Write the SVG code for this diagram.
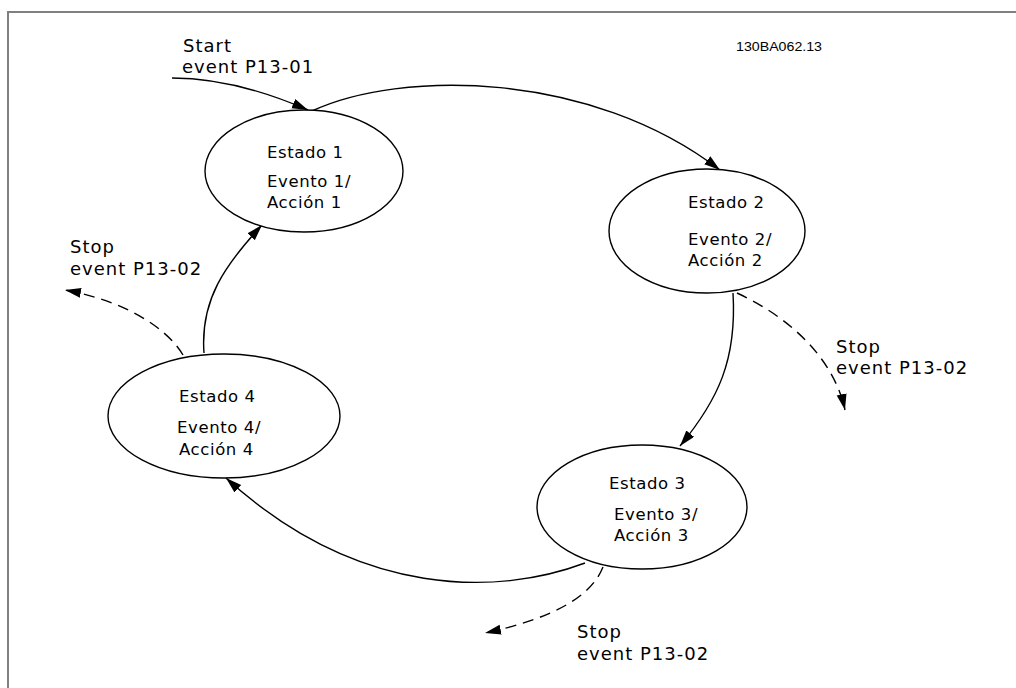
<svg xmlns="http://www.w3.org/2000/svg" width="1016" height="688" viewBox="0 0 1016 688">
<style>
.bg{fill:#ffffff}
.frame{fill:none;stroke:#808080;stroke-width:2}
.state{fill:#ffffff;stroke:#000000;stroke-width:1.4}
.t{font-family:"DejaVu Sans","Liberation Sans",sans-serif;font-size:16.5px;letter-spacing:0.6px;fill:#000000}
.lbl{font-family:"DejaVu Sans","Liberation Sans",sans-serif;font-size:18px;letter-spacing:1px;fill:#000000}
.code{font-family:"Liberation Sans",Arial,sans-serif;font-size:12.5px;fill:#000000}
.edge{fill:none;stroke:#000000;stroke-width:1.4}
.dash{fill:none;stroke:#000000;stroke-width:1.4;stroke-dasharray:11 7}
</style>
<defs>
<marker id="ah" markerUnits="userSpaceOnUse" markerWidth="18" markerHeight="12" refX="16" refY="5" orient="auto">
<path d="M0,0 L16,5 L0,10 Z" fill="#000000"/>
</marker>
</defs>
<rect class="bg" x="0" y="0" width="1016" height="688"/>
<path class="frame" d="M1016,12 L8,12 L8,688"/>
<text class="code" x="736" y="51" textLength="86" lengthAdjust="spacingAndGlyphs">130BA062.13</text>
<g id="connectors">
<path class="edge" d="M172,78 C215,78 262,90 308,110" marker-end="url(#ah)"/>
<path class="edge" d="M312,111 C400,70 590,70 720,170" marker-end="url(#ah)"/>
<path class="edge" d="M733,293 C737,360 718,400 680,446" marker-end="url(#ah)"/>
<path class="dash" d="M737,293 C785,315 833,355 845,410" marker-end="url(#ah)"/>
<path class="edge" d="M585,563 C500,595 360,600 226,478" marker-end="url(#ah)"/>
<path class="dash" d="M603,567 C590,600 545,620 485,633" marker-end="url(#ah)"/>
<path class="edge" d="M204,353 C200,300 225,265 262,225" marker-end="url(#ah)"/>
<path class="dash" d="M183,355 C165,325 120,300 65,290" marker-end="url(#ah)"/>
</g>
<g id="start-label">
<text class="lbl" x="183" y="52">Start</text>
<text class="lbl" x="182" y="73">event P13-01</text>
</g>
<g id="estado1">
<ellipse class="state" cx="304" cy="171" rx="99" ry="61"/>
<text class="t" x="267" y="158">Estado 1</text>
<text class="t" x="267" y="187">Evento 1/</text>
<text class="t" x="267" y="208">Acción 1</text>
</g>
<g id="estado2">
<ellipse class="state" cx="707" cy="231" rx="98" ry="62"/>
<text class="t" x="688" y="208">Estado 2</text>
<text class="t" x="688" y="245">Evento 2/</text>
<text class="t" x="688" y="266">Acción 2</text>
</g>
<g id="estado3">
<ellipse class="state" cx="642" cy="507" rx="105" ry="62"/>
<text class="t" x="609" y="489">Estado 3</text>
<text class="t" x="614" y="520">Evento 3/</text>
<text class="t" x="614" y="541">Acción 3</text>
</g>
<g id="estado4">
<ellipse class="state" cx="224" cy="416" rx="116" ry="62"/>
<text class="t" x="179" y="402">Estado 4</text>
<text class="t" x="177" y="433">Evento 4/</text>
<text class="t" x="179" y="455">Acción 4</text>
</g>
<g id="stop-labels">
<text class="lbl" x="70" y="253">Stop</text>
<text class="lbl" x="70" y="275">event P13-02</text>
<text class="lbl" x="836" y="353">Stop</text>
<text class="lbl" x="836" y="374">event P13-02</text>
<text class="lbl" x="577" y="638">Stop</text>
<text class="lbl" x="577" y="660">event P13-02</text>
</g>
</svg>
